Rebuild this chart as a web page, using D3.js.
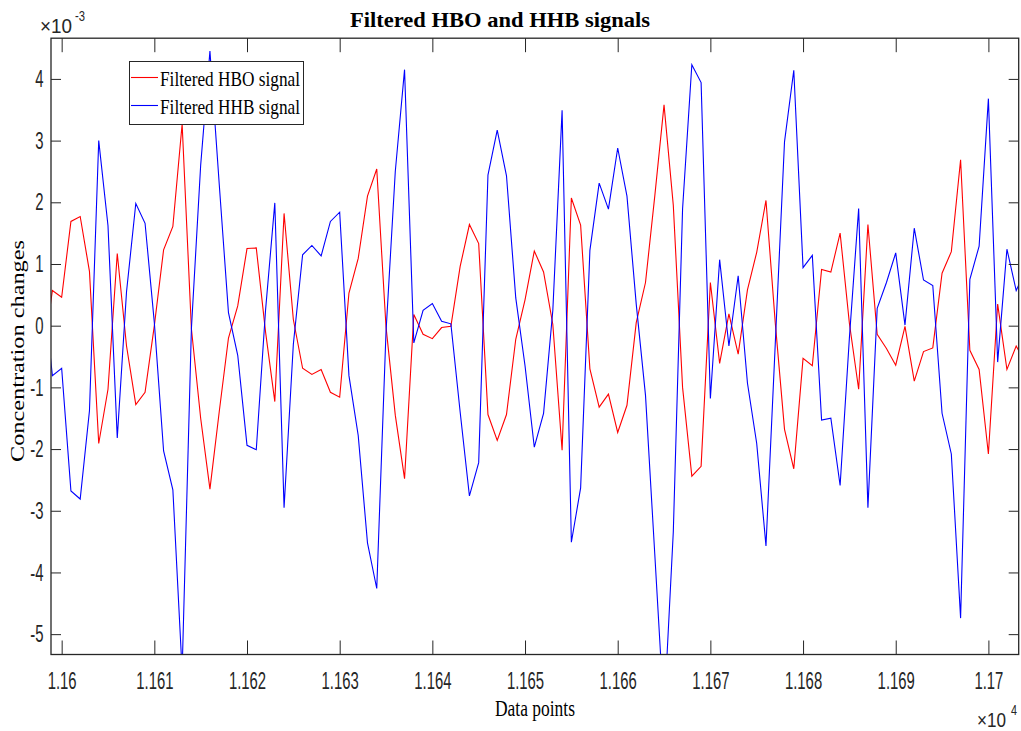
<!DOCTYPE html>
<html>
<head>
<meta charset="utf-8">
<script src="https://cdn.jsdelivr.net/npm/d3@7"></script>
<style>
  body { margin: 0; background: #fff; }
</style>
</head>
<body>
<div id="chart"></div>
<script>
// data point index of the first sample, one sample per point
const firstPoint = 11598;

// filtered signals, in units of 1e-3
const hbo = [
  -0.5, 0.57, 0.46, 1.69, 1.77, 0.88, -1.91, -1.03, 1.17, -0.33,   // 11598
  -1.28, -1.08, 0.0, 1.23, 1.61, 3.27, -0.05, -1.5, -2.65, -1.4,   // 11608
  -0.2, 0.32, 1.25, 1.26, -0.1, -1.23, 1.82, 0.1, -0.69, -0.79,    // 11618
  -0.71, -1.08, -1.16, 0.53, 1.09, 2.1, 2.54, -0.02, -1.45, -2.48, // 11628
  0.18, -0.14, -0.21, -0.03, -0.01, 0.96, 1.64, 1.33, -1.44, -1.86, // 11638
  -1.44, -0.22, 0.42, 1.21, 0.87, 0.02, -2.02, 2.07, 1.63, -0.70,  // 11648
  -1.32, -1.11, -1.73, -1.29, 0.05, 0.70, 2.1, 3.58, 1.95, -1.0,   // 11658
  -2.44, -2.28, 0.70, -0.61, 0.19, -0.46, 0.58, 1.19, 2.03, 0.05,  // 11668
  -1.68, -2.32, -0.53, -0.65, 0.91, 0.87, 1.50, 0.04, -1.03, 1.64, // 11678
  -0.14, -0.37, -0.64, -0.01, -0.90, -0.42, -0.36, 0.85, 1.20, 2.69, // 11688
  -0.40, -0.71, -2.08, 0.35, -0.71, -0.33, -0.6                     // 11698
];
const hhb = [
  0.6, -0.81, -0.69, -2.68, -2.81, -1.38, 3.0, 1.62, -1.82, 0.55,  // 11598
  1.98, 1.66, 0.05, -2.03, -2.66, -5.6, -0.05, 2.6, 4.45, 2.3,     // 11608
  0.21, -0.48, -1.94, -2.01, 0.25, 1.99, -2.95, -0.3, 1.15, 1.30,  // 11618
  1.13, 1.69, 1.84, -0.81, -1.78, -3.52, -4.26, -0.1, 2.5, 4.15,   // 11628
  -0.28, 0.25, 0.36, 0.07, 0.03, -1.4, -2.76, -2.22, 2.44, 3.17,   // 11638
  2.43, 0.45, -0.65, -1.97, -1.42, 0.25, 3.49, -3.51, -2.63, 1.22, // 11648
  2.31, 1.89, 2.88, 2.10, 0.35, -1.13, -3.7, -6.3, -3.34, 1.89,    // 11658
  4.23, 3.94, -1.18, 1.07, -0.33, 0.81, -0.93, -1.91, -3.57, -0.3, // 11668
  2.98, 4.14, 0.94, 1.14, -1.53, -1.50, -2.59, -0.2, 1.90, -2.95,  // 11678
  0.28, 0.70, 1.18, 0.01, 1.58, 0.74, 0.65, -1.42, -2.08, -4.74,   // 11688
  0.75, 1.29, 3.68, -0.59, 1.24, 0.57, 0.9                          // 11698
];

const xTicks = [11600, 11610, 11620, 11630, 11640, 11650, 11660, 11670, 11680, 11690, 11700];
const yTicks = [-5, -4, -3, -2, -1, 0, 1, 2, 3, 4];
const seriesNames = ["Filtered HBO signal", "Filtered HHB signal"];
const seriesColors = ["#ff0000", "#0000ff"];

const width = 1021, height = 731;
const box = { left: 51, right: 1018.7, top: 38.2, bottom: 654.5 };
const squeeze = 0.62;   // the figure is narrowed horizontally, text too
const ink = "#262626";
const sans = "'Liberation Sans', Arial, sans-serif";
const serif = "'Liberation Serif', 'Times New Roman', serif";

const svg = d3.select("#chart").append("svg")
  .attr("width", width)
  .attr("height", height)
  .style("font-family", sans);

const x = d3.scaleLinear().domain([11598.85, 11703.27]).range([box.left, box.right]);
const y = d3.scaleLinear().domain([-5.33, 4.66]).range([box.bottom, box.top]);

svg.append("defs").append("clipPath").attr("id", "plotClip")
  .append("rect")
  .attr("x", box.left).attr("y", box.top)
  .attr("width", box.right - box.left).attr("height", box.bottom - box.top);

// lines
const line = d3.line()
  .x((d, i) => x(firstPoint + i))
  .y((d) => y(d));

const plot = svg.append("g").attr("clip-path", "url(#plotClip)");
[hbo, hhb].forEach((s, i) => {
  plot.append("path")
    .attr("d", line(s))
    .attr("fill", "none")
    .attr("stroke", seriesColors[i])
    .attr("stroke-width", 1.1);
});

// axes, ticks inward on all four sides
const fmtX = (d) => d3.format(".4~f")(d / 10000);
const fmtY = (d) => String(d);

const xAxis = svg.append("g")
  .attr("transform", `translate(0,${box.bottom})`)
  .call(d3.axisBottom(x).tickValues(xTicks).tickFormat(fmtX).tickSizeInner(-14).tickSizeOuter(0).tickPadding(17.5));
xAxis.selectAll("text").attr("transform", `scale(${squeeze},1)`);

svg.append("g")
  .attr("transform", `translate(0,${box.top})`)
  .call(d3.axisTop(x).tickValues(xTicks).tickFormat("").tickSizeInner(-14).tickSizeOuter(0));

const yAxis = svg.append("g")
  .attr("transform", `translate(${box.left},0)`)
  .call(d3.axisLeft(y).tickValues(yTicks).tickFormat(fmtY).tickSizeInner(-10).tickSizeOuter(0));
yAxis.selectAll("text")
  .attr("x", -7.5 / squeeze)
  .attr("transform", `scale(${squeeze},1)`);

svg.append("g")
  .attr("transform", `translate(${box.right},0)`)
  .call(d3.axisRight(y).tickValues(yTicks).tickFormat("").tickSizeInner(-10).tickSizeOuter(0));

svg.selectAll(".domain").remove();
svg.selectAll(".tick line").attr("stroke", ink).attr("stroke-width", 1);
svg.selectAll(".tick text").attr("fill", ink).attr("font-size", 24).attr("font-family", sans);

svg.append("rect")
  .attr("x", box.left).attr("y", box.top)
  .attr("width", box.right - box.left).attr("height", box.bottom - box.top)
  .attr("fill", "none").attr("stroke", ink).attr("stroke-width", 1.3);

// exponent notes: base and raised power
function exponent(xPos, yBase, power, baseLen, powX, powLen) {
  svg.append("text")
    .attr("x", xPos).attr("y", yBase)
    .attr("fill", ink).attr("font-size", 20)
    .attr("textLength", baseLen).attr("lengthAdjust", "spacingAndGlyphs")
    .text("\u00d710");
  svg.append("text")
    .attr("x", powX).attr("y", yBase - 12)
    .attr("fill", ink).attr("font-size", 15)
    .attr("textLength", powLen).attr("lengthAdjust", "spacingAndGlyphs")
    .text(power);
}
exponent(40, 33, "-3", 32, 75, 10);
exponent(977, 727, "4", 29, 1011, 6);

// title and labels
svg.append("text")
  .attr("x", 500).attr("y", 27)
  .attr("text-anchor", "middle")
  .attr("font-family", serif).attr("font-weight", "bold").attr("font-size", 21)
  .attr("textLength", 300).attr("lengthAdjust", "spacingAndGlyphs")
  .attr("fill", "#000")
  .text("Filtered HBO and HHB signals");

svg.append("text")
  .attr("x", 535).attr("y", 716)
  .attr("text-anchor", "middle")
  .attr("font-family", serif).attr("font-size", 24)
  .attr("textLength", 80).attr("lengthAdjust", "spacingAndGlyphs")
  .attr("fill", "#000")
  .text("Data points");

svg.append("text")
  .attr("transform", "translate(24,351) rotate(-90)")
  .attr("text-anchor", "middle")
  .attr("font-family", serif).attr("font-size", 19)
  .attr("textLength", 222).attr("lengthAdjust", "spacingAndGlyphs")
  .attr("fill", "#000")
  .text("Concentration changes");

// legend
const legend = svg.append("g");
legend.append("rect")
  .attr("x", 129.5).attr("y", 61.5).attr("width", 174).attr("height", 63)
  .attr("fill", "#fff").attr("stroke", ink).attr("stroke-width", 1);

seriesNames.forEach((name, i) => {
  const cy = 77.5 + i * 28;
  legend.append("line")
    .attr("x1", 131).attr("x2", 158)
    .attr("y1", cy).attr("y2", cy)
    .attr("stroke", seriesColors[i]).attr("stroke-width", 1.1);
  legend.append("text")
    .attr("x", 160).attr("y", cy + 8.5)
    .attr("font-family", serif).attr("font-size", 22)
    .attr("textLength", 140).attr("lengthAdjust", "spacingAndGlyphs")
    .attr("fill", "#000")
    .text(name);
});
</script>
</body>
</html>
